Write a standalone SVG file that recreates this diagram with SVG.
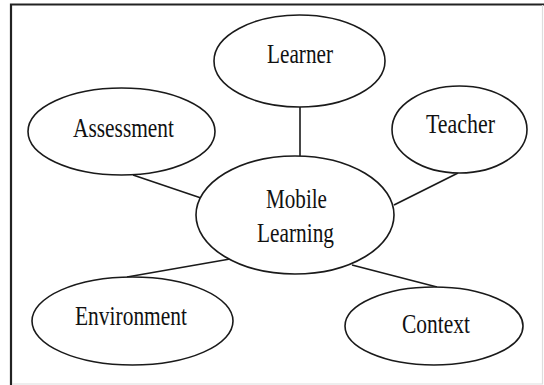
<svg xmlns="http://www.w3.org/2000/svg" width="544" height="385" viewBox="0 0 544 385">
<style>
.node ellipse{fill:#fff;stroke:#1a1a1a;stroke-width:1.6}
.node text{font-family:"Liberation Serif","Times New Roman",serif;font-size:27px;fill:#111;text-anchor:middle}
.edges line{stroke:#1a1a1a;stroke-width:1.6}
.frame-dark{stroke:#222;stroke-width:2.2;fill:none}
.frame-light{stroke:#ddd;stroke-width:1.2;fill:none}
</style>
<rect width="544" height="385" fill="#fff"/>
<g id="frame">
<path class="frame-dark" d="M11,385 V4.5 H544"/>
<path class="frame-light" d="M542.5,5 V384 H12"/>
</g>
<g id="connectors" class="edges">
<line x1="300" y1="107" x2="300" y2="156"/>
<line x1="133" y1="175" x2="201" y2="198"/>
<line x1="458" y1="173" x2="394" y2="205"/>
<line x1="127" y1="277" x2="230" y2="259"/>
<line x1="352" y1="265" x2="437" y2="287"/>
</g>
<g id="learner" class="node">
<ellipse cx="299.5" cy="61" rx="85.5" ry="46"/>
<text x="300" y="63" textLength="66" lengthAdjust="spacingAndGlyphs">Learner</text>
</g>
<g id="assessment" class="node">
<ellipse cx="121.5" cy="131.5" rx="93.5" ry="43.5"/>
<text x="123.5" y="137" textLength="101" lengthAdjust="spacingAndGlyphs">Assessment</text>
</g>
<g id="teacher" class="node">
<ellipse cx="459.5" cy="129.5" rx="67.5" ry="43.5"/>
<text x="460.5" y="133" textLength="69" lengthAdjust="spacingAndGlyphs">Teacher</text>
</g>
<g id="mobile-learning" class="node">
<ellipse cx="295" cy="215" rx="99" ry="59"/>
<text x="296.5" y="208" textLength="61" lengthAdjust="spacingAndGlyphs">Mobile</text>
<text x="295.5" y="242" textLength="77" lengthAdjust="spacingAndGlyphs">Learning</text>
</g>
<g id="environment" class="node">
<ellipse cx="132.5" cy="321" rx="100.5" ry="44"/>
<text x="131" y="325" textLength="112" lengthAdjust="spacingAndGlyphs">Environment</text>
</g>
<g id="context" class="node">
<ellipse cx="434" cy="326" rx="89" ry="39"/>
<text x="436" y="333" textLength="68" lengthAdjust="spacingAndGlyphs">Context</text>
</g>
</svg>
